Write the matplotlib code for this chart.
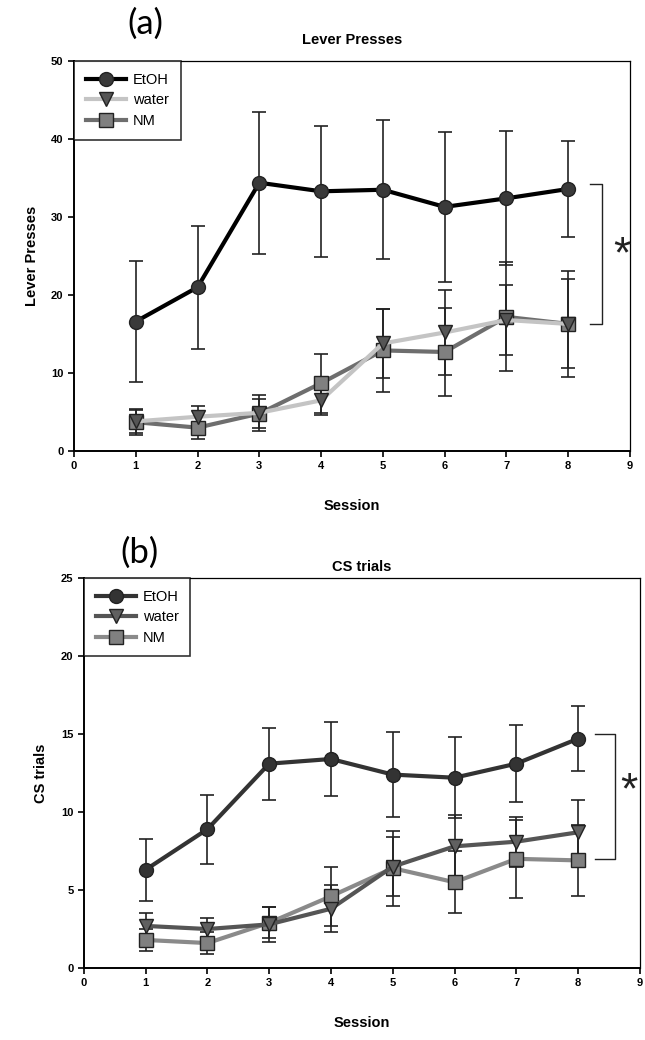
import matplotlib
matplotlib.use("Agg")
import matplotlib.pyplot as plt
from matplotlib.lines import Line2D

plt.rcParams['font.family'] = ['Liberation Sans', 'DejaVu Sans']

sessions = [1, 2, 3, 4, 5, 6, 7, 8]
groups = ["EtOH", "water", "NM"]

# Panel (a): Lever presses
lp_etoh = [16.6, 21.0, 34.4, 33.3, 33.5, 31.3, 32.4, 33.6]
lp_etoh_err = [7.8, 7.9, 9.1, 8.4, 8.9, 9.6, 8.6, 6.1]
lp_water = [3.8, 4.4, 4.9, 6.5, 13.8, 15.2, 16.8, 16.3]
lp_water_err = [1.5, 1.4, 2.3, 1.9, 4.4, 5.4, 4.5, 5.7]
lp_nm = [3.7, 3.0, 4.8, 8.7, 12.9, 12.7, 17.2, 16.3]
lp_nm_err = [1.7, 1.4, 1.9, 3.8, 5.3, 5.6, 7.0, 6.8]

# Panel (b): CS trials
cs_etoh = [6.3, 8.9, 13.1, 13.4, 12.4, 12.2, 13.1, 14.7]
cs_etoh_err = [2.0, 2.2, 2.3, 2.35, 2.75, 2.6, 2.45, 2.1]
cs_water = [2.7, 2.5, 2.8, 3.8, 6.5, 7.8, 8.1, 8.7]
cs_water_err = [0.8, 0.7, 1.1, 1.5, 1.9, 2.0, 1.6, 2.1]
cs_nm = [1.8, 1.6, 2.9, 4.6, 6.4, 5.5, 7.0, 6.9]
cs_nm_err = [0.7, 0.7, 1.0, 1.9, 2.4, 2.0, 2.5, 2.3]

fig = plt.figure(figsize=(6.45, 10.4), dpi=100)

def panel(rect, ymax, yticks, title, ylabel, letter, letter_pos, title_pad,
          data, styles, bracket, star):
    ax = fig.add_axes(rect)
    order = [2, 1, 0]
    for i in order:
        y, e = data[i]
        ax.errorbar(sessions, y, yerr=e, fmt='none', ecolor='#222222',
                    elinewidth=1.2, capsize=5, capthick=1.2, zorder=2)
    for i in order:
        y, e = data[i]
        lc, mc, mk, ms = styles[i]
        ax.plot(sessions, y, color=lc, lw=3, marker=mk, ms=ms,
                markerfacecolor=mc, markeredgecolor='#222222',
                markeredgewidth=1.0, zorder=3 + (2 - i))
    ax.set_xlim(0, 9)
    ax.set_ylim(0, ymax)
    ax.set_xticks(range(10))
    ax.set_yticks(yticks)
    ax.tick_params(direction='out', length=4, width=1.2, labelsize=8)
    for lab in ax.get_xticklabels() + ax.get_yticklabels():
        lab.set_fontweight('bold')
    ax.spines['left'].set_linewidth(1.4)
    ax.spines['bottom'].set_linewidth(1.4)
    ax.spines['top'].set_linewidth(0.9)
    ax.spines['right'].set_linewidth(0.9)
    ax.set_xlabel('Session', fontsize=10.5, fontweight='bold', labelpad=20)
    ax.set_ylabel(ylabel, fontsize=10.5, fontweight='bold', labelpad=9)
    ax.set_title(title, fontsize=10.5, fontweight='bold', pad=title_pad)
    ax.text(letter_pos[0], letter_pos[1], letter, transform=ax.transAxes,
            fontsize=25, ha='center', va='center',
            family=['Lato', 'DejaVu Sans'])
    handles = []
    for i in range(3):
        lc, mc, mk, ms = styles[i]
        handles.append(Line2D([0], [0], color=lc, lw=3, marker=mk, ms=ms,
                              markerfacecolor=mc, markeredgecolor='#222222'))
    leg = ax.legend(handles, groups, loc='upper left', fontsize=10.5,
                    frameon=True, fancybox=False, edgecolor='black',
                    borderaxespad=0.0, handlelength=2.8, borderpad=0.8,
                    labelspacing=0.45, handletextpad=0.45)
    leg.get_frame().set_linewidth(1.2)
    x0, x1, ytop, ybot = bracket
    ax.plot([x0, x1, x1, x0], [ytop, ytop, ybot, ybot], color='#222222',
            lw=1.0, clip_on=False)
    ax.text(star[0], star[1], '*', fontsize=32, ha='center', va='center',
            color='#222222')
    return ax

styles_a = [
    ('black', '#3a3a3a', 'o', 10),
    ('#c4c4c4', '#555555', 'v', 10),
    ('#6e6e6e', '#808080', 's', 10),
]
styles_b = [
    ('#333333', '#333333', 'o', 10),
    ('#555555', '#606060', 'v', 10),
    ('#8a8a8a', '#808080', 's', 10),
]

panel([0.1147, 0.5663, 0.862, 0.375], 50, [0, 10, 20, 30, 40, 50],
      'Lever Presses', 'Lever Presses', '(a)', (0.128, 1.095), 12,
      [(lp_etoh, lp_etoh_err), (lp_water, lp_water_err), (lp_nm, lp_nm_err)],
      styles_a, (8.35, 8.55, 34.3, 16.3), (8.87, 25.0))

panel([0.130, 0.0692, 0.862, 0.375], 25, [0, 5, 10, 15, 20, 25],
      'CS trials', 'CS trials', '(b)', (0.10, 1.064), 5,
      [(cs_etoh, cs_etoh_err), (cs_water, cs_water_err), (cs_nm, cs_nm_err)],
      styles_b, (8.27, 8.6, 15.0, 7.0), (8.82, 11.3))

fig.savefig('out.png', dpi=100)
